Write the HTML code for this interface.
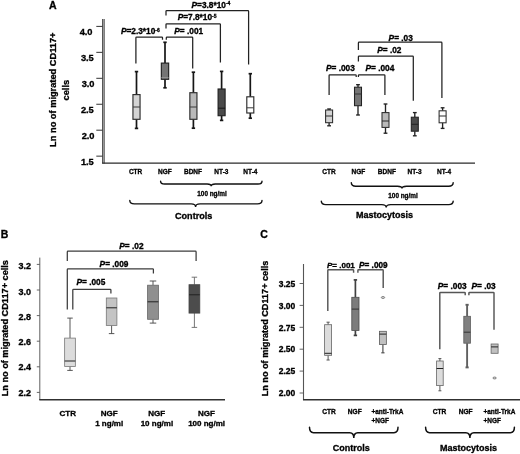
<!DOCTYPE html>
<html><head><meta charset="utf-8"><title>Figure</title>
<style>html,body{margin:0;padding:0;background:#fff;}svg{display:block;filter:blur(0.4px);}text{font-family:'Liberation Sans', Arial, Helvetica, sans-serif;font-weight:bold;fill:#000;stroke:#000;stroke-width:0.32px;}</style>
</head><body>
<svg width="520" height="454" viewBox="0 0 520 454">
<rect width="520" height="454" fill="#fff"/>
<text x="49" y="8.8" font-size="10.5" text-anchor="start">A</text>
<line x1="103.4" y1="19" x2="103.4" y2="163.5" stroke="#b4b4b4" stroke-width="2.0"/>
<line x1="102.6" y1="19" x2="102.6" y2="163.5" stroke="#3a3a3a" stroke-width="0.9"/>
<line x1="104.3" y1="19" x2="104.3" y2="163.5" stroke="#4a4a4a" stroke-width="0.8"/>
<line x1="102.2" y1="163.1" x2="475" y2="163.1" stroke="#2a2a2a" stroke-width="1.2"/>
<line x1="96.3" y1="26.4" x2="102.5" y2="26.4" stroke="#333" stroke-width="1.0"/>
<text x="92.3" y="34.9" font-size="9.3" text-anchor="end" letter-spacing="-0.1">4.0</text>
<line x1="96.3" y1="52.349999999999994" x2="102.5" y2="52.349999999999994" stroke="#333" stroke-width="1.0"/>
<text x="93.6" y="61.349999999999994" font-size="9.3" text-anchor="end" letter-spacing="-0.1">3.5</text>
<line x1="96.3" y1="78.3" x2="102.5" y2="78.3" stroke="#333" stroke-width="1.0"/>
<text x="94.3" y="86.8" font-size="9.3" text-anchor="end" letter-spacing="-0.1">3.0</text>
<line x1="96.3" y1="104.25" x2="102.5" y2="104.25" stroke="#333" stroke-width="1.0"/>
<text x="93.6" y="113.25" font-size="9.3" text-anchor="end" letter-spacing="-0.1">2.5</text>
<line x1="96.3" y1="130.2" x2="102.5" y2="130.2" stroke="#333" stroke-width="1.0"/>
<text x="94.3" y="138.7" font-size="9.3" text-anchor="end" letter-spacing="-0.1">2.0</text>
<line x1="96.3" y1="156.15" x2="102.5" y2="156.15" stroke="#333" stroke-width="1.0"/>
<text x="93.6" y="164.65" font-size="9.3" text-anchor="end" letter-spacing="-0.1">1.5</text>
<text transform="translate(56.3,89.7) rotate(-90)" font-size="9.25" text-anchor="middle">Ln no of migrated CD117+</text>
<text transform="translate(68.5,90.2) rotate(-90)" font-size="9.25" text-anchor="middle">cells</text>
<line x1="136.5" y1="71.6" x2="136.5" y2="94.6" stroke="#161616" stroke-width="1.7"/>
<line x1="134.8" y1="71.6" x2="138.2" y2="71.6" stroke="#161616" stroke-width="1.7"/>
<line x1="136.5" y1="119.3" x2="136.5" y2="128.4" stroke="#161616" stroke-width="1.7"/>
<line x1="134.8" y1="128.4" x2="138.2" y2="128.4" stroke="#161616" stroke-width="1.7"/>
<rect x="132.95" y="94.6" width="7.1" height="24.700000000000003" fill="#d4d4d4" stroke="#2c2c2c" stroke-width="1.15"/>
<line x1="132.95" y1="107" x2="140.04999999999998" y2="107" stroke="#3a3a3a" stroke-width="1"/>
<line x1="165.0" y1="42.3" x2="165.0" y2="63.1" stroke="#161616" stroke-width="1.7"/>
<line x1="163.3" y1="42.3" x2="166.7" y2="42.3" stroke="#161616" stroke-width="1.7"/>
<line x1="165.0" y1="79.3" x2="165.0" y2="87.8" stroke="#161616" stroke-width="1.7"/>
<line x1="163.3" y1="87.8" x2="166.7" y2="87.8" stroke="#161616" stroke-width="1.7"/>
<rect x="161.35" y="63.1" width="7.3" height="16.199999999999996" fill="#757575" stroke="#222" stroke-width="1.15"/>
<line x1="161.35" y1="77.7" x2="168.65" y2="77.7" stroke="#999" stroke-width="1"/>
<line x1="193.4" y1="72.2" x2="193.4" y2="92.7" stroke="#161616" stroke-width="1.7"/>
<line x1="191.70000000000002" y1="72.2" x2="195.1" y2="72.2" stroke="#161616" stroke-width="1.7"/>
<line x1="193.4" y1="119.3" x2="193.4" y2="128.2" stroke="#161616" stroke-width="1.7"/>
<line x1="191.70000000000002" y1="128.2" x2="195.1" y2="128.2" stroke="#161616" stroke-width="1.7"/>
<rect x="189.85" y="92.7" width="7.1" height="26.599999999999994" fill="#b9b9b9" stroke="#2c2c2c" stroke-width="1.15"/>
<line x1="189.85" y1="107" x2="196.95" y2="107" stroke="#3a3a3a" stroke-width="1"/>
<line x1="221.6" y1="71.4" x2="221.6" y2="89" stroke="#161616" stroke-width="1.7"/>
<line x1="219.9" y1="71.4" x2="223.29999999999998" y2="71.4" stroke="#161616" stroke-width="1.7"/>
<line x1="221.6" y1="115.7" x2="221.6" y2="120.4" stroke="#161616" stroke-width="1.7"/>
<line x1="219.9" y1="120.4" x2="223.29999999999998" y2="120.4" stroke="#161616" stroke-width="1.7"/>
<rect x="218.1" y="89" width="7.0" height="26.700000000000003" fill="#4a4a4a" stroke="#222" stroke-width="1.15"/>
<line x1="218.1" y1="108.2" x2="225.1" y2="108.2" stroke="#151515" stroke-width="1"/>
<line x1="250.3" y1="73.7" x2="250.3" y2="96.8" stroke="#161616" stroke-width="1.7"/>
<line x1="248.60000000000002" y1="73.7" x2="252.0" y2="73.7" stroke="#161616" stroke-width="1.7"/>
<line x1="250.3" y1="113.0" x2="250.3" y2="118.2" stroke="#161616" stroke-width="1.7"/>
<line x1="248.60000000000002" y1="118.2" x2="252.0" y2="118.2" stroke="#161616" stroke-width="1.7"/>
<rect x="246.8" y="96.8" width="7.0" height="16.200000000000003" fill="#ffffff" stroke="#2c2c2c" stroke-width="1.15"/>
<line x1="246.8" y1="107.8" x2="253.8" y2="107.8" stroke="#3a3a3a" stroke-width="1"/>
<line x1="329.1" y1="109.0" x2="329.1" y2="110.0" stroke="#222" stroke-width="1.35"/>
<line x1="327.20000000000005" y1="109.0" x2="331.0" y2="109.0" stroke="#222" stroke-width="1.35"/>
<line x1="329.1" y1="122.7" x2="329.1" y2="125.8" stroke="#222" stroke-width="1.35"/>
<line x1="327.20000000000005" y1="125.8" x2="331.0" y2="125.8" stroke="#222" stroke-width="1.35"/>
<rect x="325.6" y="110.0" width="7.0" height="12.700000000000003" fill="#d4d4d4" stroke="#2c2c2c" stroke-width="1.05"/>
<line x1="325.6" y1="116.0" x2="332.6" y2="116.0" stroke="#2a2a2a" stroke-width="1"/>
<line x1="358.0" y1="84.7" x2="358.0" y2="87.2" stroke="#222" stroke-width="1.35"/>
<line x1="356.1" y1="84.7" x2="359.9" y2="84.7" stroke="#222" stroke-width="1.35"/>
<line x1="358.0" y1="105.7" x2="358.0" y2="115" stroke="#222" stroke-width="1.35"/>
<line x1="356.1" y1="115" x2="359.9" y2="115" stroke="#222" stroke-width="1.35"/>
<rect x="354.5" y="87.2" width="7.0" height="18.5" fill="#757575" stroke="#222" stroke-width="1.05"/>
<line x1="354.5" y1="94" x2="361.5" y2="94" stroke="#333" stroke-width="1"/>
<line x1="385.5" y1="104.0" x2="385.5" y2="112.6" stroke="#222" stroke-width="1.35"/>
<line x1="383.6" y1="104.0" x2="387.4" y2="104.0" stroke="#222" stroke-width="1.35"/>
<line x1="385.5" y1="127.4" x2="385.5" y2="133.2" stroke="#222" stroke-width="1.35"/>
<line x1="383.6" y1="133.2" x2="387.4" y2="133.2" stroke="#222" stroke-width="1.35"/>
<rect x="382.0" y="112.6" width="7.0" height="14.800000000000011" fill="#b9b9b9" stroke="#2c2c2c" stroke-width="1.05"/>
<line x1="382.0" y1="121.0" x2="389.0" y2="121.0" stroke="#2a2a2a" stroke-width="1"/>
<line x1="414.8" y1="112.6" x2="414.8" y2="117.2" stroke="#222" stroke-width="1.35"/>
<line x1="412.90000000000003" y1="112.6" x2="416.7" y2="112.6" stroke="#222" stroke-width="1.35"/>
<line x1="414.8" y1="131.2" x2="414.8" y2="135.8" stroke="#222" stroke-width="1.35"/>
<line x1="412.90000000000003" y1="135.8" x2="416.7" y2="135.8" stroke="#222" stroke-width="1.35"/>
<rect x="411.3" y="117.2" width="7.0" height="13.999999999999986" fill="#4a4a4a" stroke="#222" stroke-width="1.05"/>
<line x1="411.3" y1="124.3" x2="418.3" y2="124.3" stroke="#222" stroke-width="1"/>
<line x1="442.6" y1="107.8" x2="442.6" y2="110.8" stroke="#222" stroke-width="1.35"/>
<line x1="440.70000000000005" y1="107.8" x2="444.5" y2="107.8" stroke="#222" stroke-width="1.35"/>
<line x1="442.6" y1="122.8" x2="442.6" y2="128.4" stroke="#222" stroke-width="1.35"/>
<line x1="440.70000000000005" y1="128.4" x2="444.5" y2="128.4" stroke="#222" stroke-width="1.35"/>
<rect x="439.1" y="110.8" width="7.0" height="12.0" fill="#ffffff" stroke="#2c2c2c" stroke-width="1.05"/>
<line x1="439.1" y1="116.0" x2="446.1" y2="116.0" stroke="#2a2a2a" stroke-width="1"/>
<path d="M166,15.4 L166,11.2 Q166,10.5 166.7,10.5 L247.9,10.5 Q248.6,10.5 248.6,11.2 L248.6,64.4" fill="none" stroke="#222" stroke-width="1.25"/>
<path d="M166,28.5 L166,24.599999999999998 Q166,23.9 166.7,23.9 L219.70000000000002,23.9 Q220.4,23.9 220.4,24.599999999999998 L220.4,62.4" fill="none" stroke="#222" stroke-width="1.25"/>
<path d="M166.3,39.8 L166.3,37.7 Q166.3,37 167.0,37 L192.0,37 Q192.7,37 192.7,37.7 L192.7,68.5" fill="none" stroke="#222" stroke-width="1.25"/>
<path d="M135.9,63.6 L135.9,37.7 Q135.9,37 136.6,37 L161.8,37 Q162.5,37 162.5,37.7 L162.5,39.8" fill="none" stroke="#222" stroke-width="1.25"/>
<text x="191.5" y="7.9" font-size="8.3"><tspan font-style="italic">P</tspan>=3.8*10<tspan font-size="4.98" dy="-2.49">-4</tspan></text>
<text x="177.7" y="20.0" font-size="8.3"><tspan font-style="italic">P</tspan>=7.8*10<tspan font-size="4.98" dy="-2.49">-5</tspan></text>
<text x="120.9" y="34.2" font-size="8.3"><tspan font-style="italic">P</tspan>=2.3*10<tspan font-size="4.98" dy="-2.49">-6</tspan></text>
<text x="174.3" y="33.9" font-size="8.3"><tspan font-style="italic">P</tspan>= .001</text>
<path d="M358.4,49.9 L358.4,42.900000000000006 Q358.4,42.2 359.09999999999997,42.2 L441.2,42.2 Q441.9,42.2 441.9,42.900000000000006 L441.9,97.9" fill="none" stroke="#222" stroke-width="1.25"/>
<path d="M358.4,61.6 L358.4,56.7 Q358.4,56 359.09999999999997,56 L412.6,56 Q413.3,56 413.3,56.7 L413.3,100.8" fill="none" stroke="#222" stroke-width="1.25"/>
<path d="M358.4,77 L358.4,75.60000000000001 Q358.4,74.9 359.09999999999997,74.9 L384.2,74.9 Q384.9,74.9 384.9,75.60000000000001 L384.9,94.9" fill="none" stroke="#222" stroke-width="1.25"/>
<path d="M329.1,94.9 L329.1,75.60000000000001 Q329.1,74.9 329.8,74.9 L355.5,74.9 Q356.2,74.9 356.2,75.60000000000001 L356.2,77" fill="none" stroke="#222" stroke-width="1.25"/>
<text x="388.6" y="40.7" font-size="8.3"><tspan font-style="italic">P</tspan>= .03</text>
<text x="377.2" y="53.0" font-size="8.3"><tspan font-style="italic">P</tspan>= .02</text>
<text x="326" y="70.6" font-size="8.3"><tspan font-style="italic">P</tspan>= .003</text>
<text x="365.5" y="70.6" font-size="8.3"><tspan font-style="italic">P</tspan>= .004</text>
<text transform="translate(135.6,173.5) scale(0.92,1)" font-size="7.1" text-anchor="middle">CTR</text>
<text transform="translate(164.8,173.5) scale(0.92,1)" font-size="7.1" text-anchor="middle">NGF</text>
<text transform="translate(193.0,173.5) scale(0.92,1)" font-size="7.1" text-anchor="middle">BDNF</text>
<text transform="translate(221.4,173.5) scale(0.92,1)" font-size="7.1" text-anchor="middle">NT-3</text>
<text transform="translate(250.4,173.5) scale(0.92,1)" font-size="7.1" text-anchor="middle">NT-4</text>
<text transform="translate(329,173.5) scale(0.92,1)" font-size="7.1" text-anchor="middle">CTR</text>
<text transform="translate(358.3,173.5) scale(0.92,1)" font-size="7.1" text-anchor="middle">NGF</text>
<text transform="translate(386.9,173.5) scale(0.92,1)" font-size="7.1" text-anchor="middle">BDNF</text>
<text transform="translate(414.5,173.5) scale(0.92,1)" font-size="7.1" text-anchor="middle">NT-3</text>
<text transform="translate(444,173.5) scale(0.92,1)" font-size="7.1" text-anchor="middle">NT-4</text>
<path d="M160.6,181.2 Q160.6,184.0 164.6,184.0 L207.2,184.0 Q211.2,184.0 211.2,186.2 Q211.2,184.0 215.2,184.0 L258,184.0 Q262,184.0 262,181.2" fill="none" stroke="#111" stroke-width="1.4" stroke-linecap="round"/>
<text transform="translate(212.0,196.0) scale(0.915,1)" font-size="7.0" text-anchor="middle">100 ng/ml</text>
<path d="M129.8,200.5 Q129.8,203.9 134.3,203.9 L191.1,203.9 Q195.6,203.9 195.6,206.9 Q195.6,203.9 200.1,203.9 L257.5,203.9 Q262,203.9 262,200.5" fill="none" stroke="#111" stroke-width="1.4" stroke-linecap="round"/>
<text x="193.7" y="219.3" font-size="9.1" text-anchor="middle">Controls</text>
<path d="M351.3,182.6 Q351.3,186.29999999999998 355.8,186.29999999999998 L397.5,186.29999999999998 Q402.0,186.29999999999998 402.0,188.49999999999997 Q402.0,186.29999999999998 406.5,186.29999999999998 L448.7,186.29999999999998 Q453.2,186.29999999999998 453.2,182.6" fill="none" stroke="#111" stroke-width="1.4" stroke-linecap="round"/>
<text transform="translate(403,197.7) scale(0.915,1)" font-size="7.0" text-anchor="middle">100 ng/ml</text>
<path d="M321.3,201.1 Q321.3,204.6 325.8,204.6 L381.7,204.6 Q386.2,204.6 386.2,207.6 Q386.2,204.6 390.7,204.6 L448.7,204.6 Q453.2,204.6 453.2,201.1" fill="none" stroke="#111" stroke-width="1.4" stroke-linecap="round"/>
<text x="384.5" y="218.2" font-size="9" text-anchor="middle">Mastocytosis</text>
<text x="0.8" y="237.6" font-size="10.5" text-anchor="start">B</text>
<line x1="39.8" y1="257.6" x2="39.8" y2="400" stroke="#606060" stroke-width="1.0"/>
<line x1="39.3" y1="399.8" x2="225" y2="399.8" stroke="#303030" stroke-width="1.4"/>
<line x1="36.8" y1="264.4" x2="39.8" y2="264.4" stroke="#555" stroke-width="0.9"/>
<text x="31.0" y="269.4" font-size="9" text-anchor="end">3.2</text>
<line x1="36.8" y1="290.0" x2="39.8" y2="290.0" stroke="#555" stroke-width="0.9"/>
<text x="31.0" y="294.61999999999995" font-size="9" text-anchor="end">3.0</text>
<line x1="36.8" y1="315.59999999999997" x2="39.8" y2="315.59999999999997" stroke="#555" stroke-width="0.9"/>
<text x="31.0" y="319.84" font-size="9" text-anchor="end">2.8</text>
<line x1="36.8" y1="341.2" x2="39.8" y2="341.2" stroke="#555" stroke-width="0.9"/>
<text x="31.0" y="345.06" font-size="9" text-anchor="end">2.6</text>
<line x1="36.8" y1="366.79999999999995" x2="39.8" y2="366.79999999999995" stroke="#555" stroke-width="0.9"/>
<text x="31.0" y="370.28" font-size="9" text-anchor="end">2.4</text>
<line x1="36.8" y1="392.4" x2="39.8" y2="392.4" stroke="#555" stroke-width="0.9"/>
<text x="31.0" y="395.49999999999994" font-size="9" text-anchor="end">2.2</text>
<text transform="translate(7.7,328.2) rotate(-90)" font-size="9.18" text-anchor="middle">Ln no of migrated CD117+ cells</text>
<line x1="70" y1="318.1" x2="70" y2="338.1" stroke="#444" stroke-width="0.9"/>
<line x1="67.25" y1="318.1" x2="72.75" y2="318.1" stroke="#444" stroke-width="0.9"/>
<line x1="70" y1="366.4" x2="70" y2="370.4" stroke="#444" stroke-width="0.9"/>
<line x1="67.25" y1="370.4" x2="72.75" y2="370.4" stroke="#444" stroke-width="0.9"/>
<rect x="64.65" y="338.1" width="10.7" height="28.299999999999955" fill="#dcdcdc" stroke="#777" stroke-width="0.8"/>
<line x1="64.65" y1="361.0" x2="75.35000000000001" y2="361.0" stroke="#222" stroke-width="1"/>
<line x1="111.6" y1="325.4" x2="111.6" y2="333.6" stroke="#444" stroke-width="0.9"/>
<line x1="108.85" y1="333.6" x2="114.35" y2="333.6" stroke="#444" stroke-width="0.9"/>
<rect x="106.3" y="298" width="10.6" height="27.399999999999977" fill="#c4c4c4" stroke="#777" stroke-width="0.8"/>
<line x1="106.3" y1="307.8" x2="116.89999999999999" y2="307.8" stroke="#222" stroke-width="1"/>
<line x1="153" y1="281" x2="153" y2="285.2" stroke="#444" stroke-width="0.9"/>
<line x1="149.75" y1="281" x2="156.25" y2="281" stroke="#444" stroke-width="0.9"/>
<line x1="153" y1="319.3" x2="153" y2="323.1" stroke="#444" stroke-width="0.9"/>
<line x1="149.75" y1="323.1" x2="156.25" y2="323.1" stroke="#444" stroke-width="0.9"/>
<rect x="147.6" y="285.2" width="10.8" height="34.10000000000002" fill="#8f8f8f" stroke="#666" stroke-width="0.8"/>
<line x1="147.6" y1="301.8" x2="158.4" y2="301.8" stroke="#222" stroke-width="1"/>
<line x1="194.4" y1="277.2" x2="194.4" y2="284.7" stroke="#666" stroke-width="0.9"/>
<line x1="191.65" y1="277.2" x2="197.15" y2="277.2" stroke="#666" stroke-width="0.9"/>
<line x1="194.4" y1="313.1" x2="194.4" y2="327.4" stroke="#666" stroke-width="0.9"/>
<line x1="191.65" y1="327.4" x2="197.15" y2="327.4" stroke="#666" stroke-width="0.9"/>
<rect x="189.0" y="284.7" width="10.8" height="28.400000000000034" fill="#4c4c4c" stroke="#444" stroke-width="0.8"/>
<line x1="189.0" y1="294.8" x2="199.8" y2="294.8" stroke="#222" stroke-width="1"/>
<path d="M67.3,260.9 L67.3,251.89999999999998 Q67.3,251.2 68.0,251.2 L195.4,251.2 Q196.1,251.2 196.1,251.89999999999998 L196.1,260.9" fill="none" stroke="#3c3c3c" stroke-width="1.25"/>
<path d="M67.3,309.6 L67.3,269.59999999999997 Q67.3,268.9 68.0,268.9 L152.70000000000002,268.9 Q153.4,268.9 153.4,269.59999999999997 L153.4,273.4" fill="none" stroke="#3c3c3c" stroke-width="1.25"/>
<path d="M72.8,309.6 L72.8,290.0 Q72.8,289.3 73.5,289.3 L110.2,289.3 Q110.9,289.3 110.9,290.0 L110.9,293.5" fill="none" stroke="#3c3c3c" stroke-width="1.25"/>
<text x="119.3" y="249.2" font-size="8.3"><tspan font-style="italic">P</tspan>= .02</text>
<text x="99.6" y="266.8" font-size="8.3"><tspan font-style="italic">P</tspan>= .009</text>
<text x="76.5" y="284.6" font-size="8.3"><tspan font-style="italic">P</tspan>= .005</text>
<text x="67.8" y="415.6" font-size="8" text-anchor="middle">CTR</text>
<text x="109.2" y="415.6" font-size="8" text-anchor="middle">NGF</text>
<text x="109.2" y="426.3" font-size="8" text-anchor="middle">1 ng/ml</text>
<text x="156.7" y="416.2" font-size="8" text-anchor="middle">NGF</text>
<text x="156.9" y="425.7" font-size="8" text-anchor="middle">10 ng/ml</text>
<text x="206.4" y="416.2" font-size="8" text-anchor="middle">NGF</text>
<text x="206.6" y="425.7" font-size="8" text-anchor="middle">100 ng/ml</text>
<text x="260.3" y="237.6" font-size="10.5" text-anchor="start">C</text>
<line x1="303.5" y1="264" x2="303.5" y2="400" stroke="#555" stroke-width="1.1"/>
<line x1="303" y1="399.8" x2="520" y2="399.8" stroke="#303030" stroke-width="1.4"/>
<line x1="299.6" y1="283.5" x2="303.5" y2="283.5" stroke="#555" stroke-width="0.9"/>
<text x="295.3" y="287.25" font-size="8.5" text-anchor="end">3.25</text>
<line x1="299.6" y1="305.4" x2="303.5" y2="305.4" stroke="#555" stroke-width="0.9"/>
<text x="295.3" y="308.99" font-size="8.5" text-anchor="end">3.00</text>
<line x1="299.6" y1="327.3" x2="303.5" y2="327.3" stroke="#555" stroke-width="0.9"/>
<text x="295.3" y="330.73" font-size="8.5" text-anchor="end">2.75</text>
<line x1="299.6" y1="349.2" x2="303.5" y2="349.2" stroke="#555" stroke-width="0.9"/>
<text x="295.3" y="352.46999999999997" font-size="8.5" text-anchor="end">2.50</text>
<line x1="299.6" y1="371.1" x2="303.5" y2="371.1" stroke="#555" stroke-width="0.9"/>
<text x="295.3" y="374.21" font-size="8.5" text-anchor="end">2.25</text>
<line x1="299.6" y1="393.0" x2="303.5" y2="393.0" stroke="#555" stroke-width="0.9"/>
<text x="295.3" y="395.95" font-size="8.5" text-anchor="end">2.00</text>
<text transform="translate(267.9,328.5) rotate(-90)" font-size="9.15" text-anchor="middle">Ln no of migrated CD117+ cells</text>
<line x1="328.1" y1="322.2" x2="328.1" y2="324.7" stroke="#555" stroke-width="1.0"/>
<line x1="326.52500000000003" y1="322.2" x2="329.675" y2="322.2" stroke="#555" stroke-width="1.0"/>
<line x1="328.1" y1="355.3" x2="328.1" y2="360.0" stroke="#555" stroke-width="1.0"/>
<line x1="326.52500000000003" y1="360.0" x2="329.675" y2="360.0" stroke="#555" stroke-width="1.0"/>
<rect x="324.6" y="324.7" width="7.0" height="30.600000000000023" fill="#dcdcdc" stroke="#666" stroke-width="0.8"/>
<line x1="324.6" y1="353.3" x2="331.6" y2="353.3" stroke="#222" stroke-width="1"/>
<line x1="355.4" y1="279.9" x2="355.4" y2="297.3" stroke="#404040" stroke-width="1.7"/>
<line x1="353.7" y1="279.9" x2="357.09999999999997" y2="279.9" stroke="#404040" stroke-width="1.7"/>
<line x1="355.4" y1="330.4" x2="355.4" y2="335.4" stroke="#404040" stroke-width="1.7"/>
<line x1="353.7" y1="335.4" x2="357.09999999999997" y2="335.4" stroke="#404040" stroke-width="1.7"/>
<rect x="351.79999999999995" y="297.3" width="7.2" height="33.099999999999966" fill="#7c7c7c" stroke="#4a4a4a" stroke-width="0.8"/>
<line x1="351.79999999999995" y1="309.1" x2="358.99999999999994" y2="309.1" stroke="#333" stroke-width="1"/>
<line x1="382.9" y1="344.6" x2="382.9" y2="352.8" stroke="#505050" stroke-width="1.2"/>
<line x1="381.29999999999995" y1="352.8" x2="384.5" y2="352.8" stroke="#505050" stroke-width="1.2"/>
<rect x="379.45" y="331.3" width="6.9" height="13.300000000000011" fill="#c0c0c0" stroke="#5a5a5a" stroke-width="0.8"/>
<line x1="379.45" y1="334.1" x2="386.34999999999997" y2="334.1" stroke="#222" stroke-width="1"/>
<ellipse cx="383" cy="297.5" rx="1.7" ry="0.95" fill="#e0e0e0" stroke="#555" stroke-width="0.7"/>
<line x1="439.9" y1="358.6" x2="439.9" y2="361.0" stroke="#555" stroke-width="1.0"/>
<line x1="438.41499999999996" y1="358.6" x2="441.385" y2="358.6" stroke="#555" stroke-width="1.0"/>
<line x1="439.9" y1="385.6" x2="439.9" y2="390.8" stroke="#555" stroke-width="1.0"/>
<line x1="438.41499999999996" y1="390.8" x2="441.385" y2="390.8" stroke="#555" stroke-width="1.0"/>
<rect x="436.59999999999997" y="361.0" width="6.6" height="24.600000000000023" fill="#dcdcdc" stroke="#666" stroke-width="0.8"/>
<line x1="436.59999999999997" y1="368.5" x2="443.2" y2="368.5" stroke="#222" stroke-width="1"/>
<line x1="467.1" y1="304.8" x2="467.1" y2="316.3" stroke="#606060" stroke-width="1.9"/>
<line x1="465.5" y1="304.8" x2="468.70000000000005" y2="304.8" stroke="#606060" stroke-width="1.9"/>
<line x1="467.1" y1="343.2" x2="467.1" y2="367.4" stroke="#606060" stroke-width="1.9"/>
<line x1="465.5" y1="367.4" x2="468.70000000000005" y2="367.4" stroke="#606060" stroke-width="1.9"/>
<rect x="463.8" y="316.3" width="6.6" height="26.899999999999977" fill="#808080" stroke="#5a5a5a" stroke-width="0.8"/>
<line x1="463.8" y1="332.2" x2="470.40000000000003" y2="332.2" stroke="#333" stroke-width="1"/>
<rect x="491.1" y="344.0" width="7.0" height="9.300000000000011" fill="#c0c0c0" stroke="#666" stroke-width="0.8"/>
<line x1="491.1" y1="346.9" x2="498.1" y2="346.9" stroke="#222" stroke-width="1"/>
<ellipse cx="494.6" cy="378" rx="1.7" ry="0.95" fill="#e0e0e0" stroke="#555" stroke-width="0.7"/>
<path d="M327.8,311 L327.8,270.5 Q327.8,269.8 328.5,269.8 L352.90000000000003,269.8 Q353.6,269.8 353.6,270.5 L353.6,272.7" fill="none" stroke="#555" stroke-width="1.45"/>
<path d="M357.9,272.7 L357.9,270.5 Q357.9,269.8 358.59999999999997,269.8 L382.5,269.8 Q383.2,269.8 383.2,270.5 L383.2,288" fill="none" stroke="#555" stroke-width="1.45"/>
<text x="327" y="267.8" font-size="8.0"><tspan font-style="italic">P</tspan>= .001</text>
<text x="359.1" y="267.8" font-size="8.2"><tspan font-style="italic">P</tspan>= .009</text>
<path d="M439.8,349.3 L439.8,293.09999999999997 Q439.8,292.4 440.5,292.4 L464.5,292.4 Q465.2,292.4 465.2,293.09999999999997 L465.2,295.3" fill="none" stroke="#555" stroke-width="1.45"/>
<path d="M468.9,295.3 L468.9,293.09999999999997 Q468.9,292.4 469.59999999999997,292.4 L493.3,292.4 Q494,292.4 494,293.09999999999997 L494,329.8" fill="none" stroke="#555" stroke-width="1.45"/>
<text x="437.8" y="289.1" font-size="8.3"><tspan font-style="italic">P</tspan>= .003</text>
<text x="471.5" y="289.1" font-size="8.3"><tspan font-style="italic">P</tspan>= .03</text>
<text transform="translate(329,414.2) scale(0.93,1)" font-size="7.1" text-anchor="middle">CTR</text>
<text transform="translate(354.8,414.2) scale(0.93,1)" font-size="7.1" text-anchor="middle">NGF</text>
<text transform="translate(371.4,414.2) scale(0.915,1)" font-size="7.1" text-anchor="start">+anti-TrkA</text>
<text transform="translate(371.4,423.1) scale(0.915,1)" font-size="7.1" text-anchor="start">+NGF</text>
<text transform="translate(439.6,414.2) scale(0.93,1)" font-size="7.1" text-anchor="middle">CTR</text>
<text transform="translate(465.6,414.2) scale(0.93,1)" font-size="7.1" text-anchor="middle">NGF</text>
<text transform="translate(483.4,414.2) scale(0.915,1)" font-size="7.1" text-anchor="start">+anti-TrkA</text>
<text transform="translate(483.4,423.1) scale(0.915,1)" font-size="7.1" text-anchor="start">+NGF</text>
<path d="M309.5,427.3 Q309.5,432.7 313.5,432.7 L349.8,432.7 Q353.8,432.7 353.8,438.09999999999997 Q353.8,432.7 357.8,432.7 L394,432.7 Q398,432.7 398,427.3" fill="none" stroke="#111" stroke-width="1.5" stroke-linecap="round"/>
<text x="351.2" y="451.0" font-size="9" text-anchor="middle">Controls</text>
<path d="M425.6,427.3 Q425.6,432.7 429.6,432.7 L465.9,432.7 Q469.9,432.7 469.9,438.09999999999997 Q469.9,432.7 473.9,432.7 L510.4,432.7 Q514.4,432.7 514.4,427.3" fill="none" stroke="#111" stroke-width="1.5" stroke-linecap="round"/>
<text x="468.6" y="451.0" font-size="9" text-anchor="middle">Mastocytosis</text>
</svg></body></html>
